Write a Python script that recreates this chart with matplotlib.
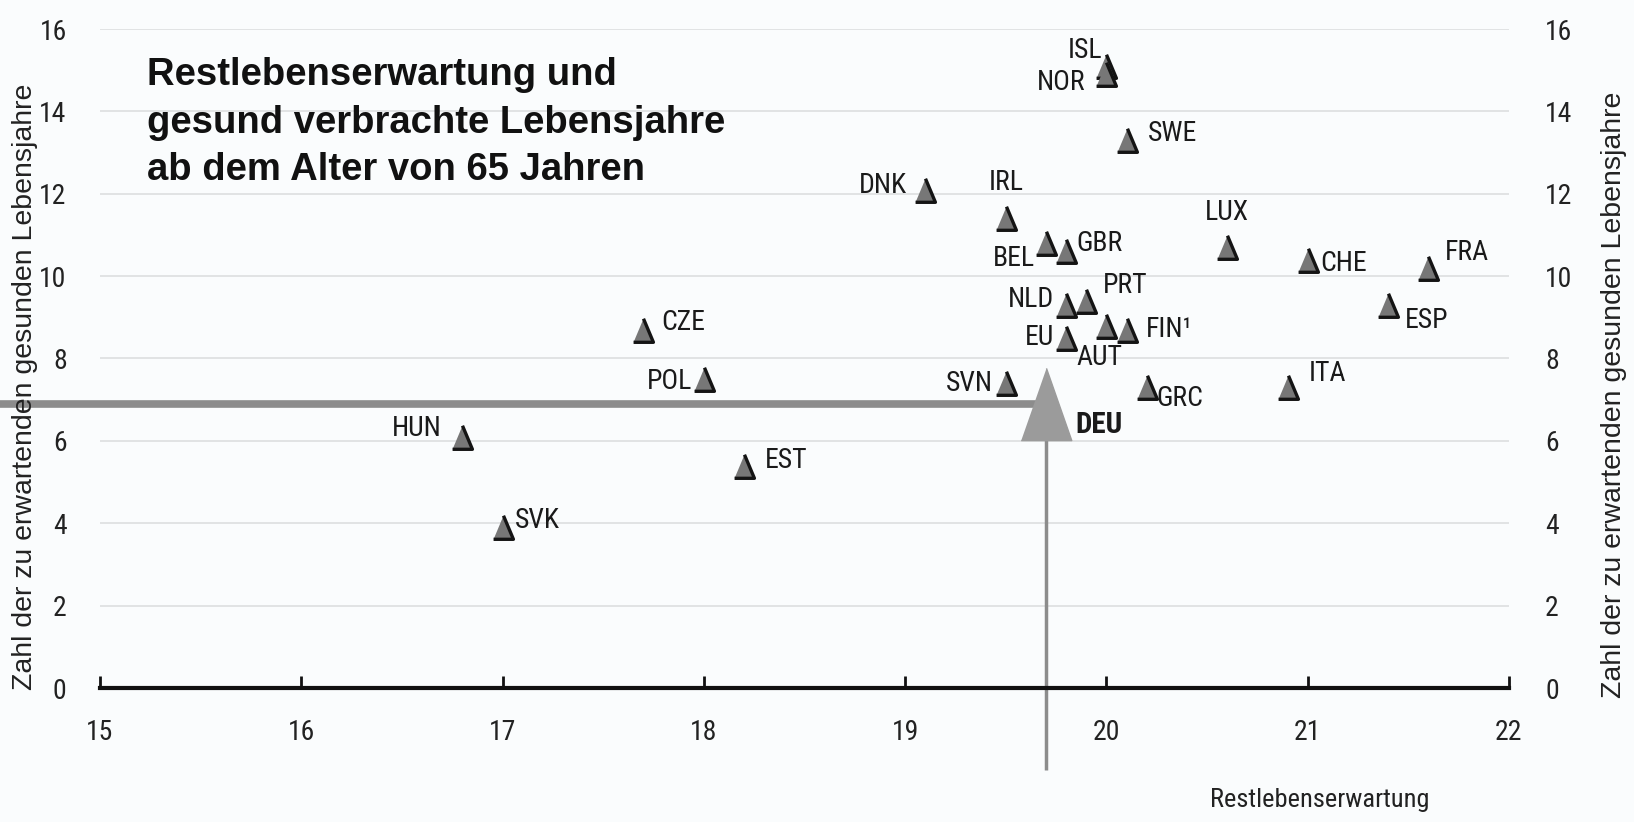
import matplotlib
matplotlib.use("Agg")
import matplotlib.pyplot as plt
from matplotlib import font_manager

# Restlebenserwartung (x) und gesunde Lebensjahre (y) ab 65
laender = ["ISL", "NOR", "SWE", "DNK", "IRL", "BEL", "GBR", "LUX", "CHE", "FRA",
           "NLD", "PRT", "ESP", "AUT", "FIN¹", "EU", "SVN", "GRC", "ITA",
           "CZE", "POL", "HUN", "EST", "SVK"]
rest_le = [20.0, 20.0, 20.1, 19.1, 19.5, 19.7, 19.8, 20.6, 21.0, 21.6,
           19.8, 19.9, 21.4, 20.0, 20.1, 19.8, 19.5, 20.2, 20.9,
           17.7, 18.0, 16.8, 18.2, 17.0]
gesund = [15.1, 14.9, 13.3, 12.1, 11.4, 10.8, 10.6, 10.7, 10.4, 10.2,
          9.3, 9.4, 9.3, 8.8, 8.7, 8.5, 7.4, 7.3, 7.3,
          8.7, 7.5, 6.1, 5.4, 3.9]
deu_x, deu_y = 19.7, 6.9

# Beschriftungsversatz in Punkt (dx, dy, ha)
versatz = {
    "ISL": (-3, 11, "right"), "NOR": (-15, -6, "right"), "SWE": (15, 5, "left"),
    "DNK": (-13, 3, "right"), "IRL": (0, 26, "center"), "BEL": (-8, -11, "right"),
    "GBR": (7, 6, "left"), "LUX": (0, 25, "center"), "CHE": (9, -3, "left"),
    "FRA": (12, 11, "left"), "NLD": (-9, 4, "right"), "PRT": (12, 11, "left"),
    "ESP": (12, -11, "left"), "AUT": (-5, -23, "center"), "FIN¹": (14, 0, "left"),
    "EU": (-9, 0, "right"), "SVN": (-9, 0, "right"), "GRC": (7, -8, "left"),
    "ITA": (15, 10, "left"), "CZE": (13, 5, "left"), "POL": (-8, -2, "right"),
    "HUN": (-15, 6, "right"), "EST": (15, 4, "left"), "SVK": (9, 5, "left"),
}

namen = {f.name for f in font_manager.fontManager.ttflist}
schmal = next((n for n in ["Liberation Sans Narrow", "Roboto Condensed", "Archivo Narrow",
                           "Asap Condensed", "Barlow Condensed"] if n in namen), "DejaVu Sans")
normal = "Liberation Sans"

bg = "#fafcfd"
fig = plt.figure(figsize=(16.34, 8.22), dpi=100, facecolor=bg)
ax = fig.add_axes([100 / 1634, 1 - 688 / 822, 1409 / 1634, 659 / 822])
ax.set_facecolor(bg)
ax.set_xlim(15, 22)
ax.set_ylim(0, 16)

for y in range(2, 17, 2):
    ax.axhline(y, color="#dcdedf", lw=1.2, zorder=0)

for s in ["top", "left", "right"]:
    ax.spines[s].set_visible(False)
ax.spines["bottom"].set_linewidth(3)
ax.spines["bottom"].set_color("#111111")

ax.set_xticks(range(15, 23))
ax.set_yticks(range(0, 17, 2))
ax.tick_params(axis="x", direction="in", length=9, width=2, color="#111111", pad=22,
               labelsize=20)
ax.tick_params(axis="y", length=0, pad=24, labelsize=20)
for lab in ax.get_xticklabels() + ax.get_yticklabels():
    lab.set_family(schmal)
    lab.set_color("#222222")

ax2 = ax.twinx()
ax2.set_ylim(0, 16)
ax2.set_yticks(range(0, 17, 2))
ax2.tick_params(axis="y", length=0, pad=26, labelsize=20)
for s in ["top", "left", "right", "bottom"]:
    ax2.spines[s].set_visible(False)
for lab in ax2.get_yticklabels():
    lab.set_family(schmal)
    lab.set_color("#222222")

# Hilfslinien zu Deutschland
ax.plot([14.5, deu_x], [deu_y, deu_y], color="#8c8c8c", lw=5.5, clip_on=False, zorder=2,
        solid_capstyle="butt")
ax.plot([deu_x, deu_x], [deu_y, -2.0], color="#8c8c8c", lw=2.5, clip_on=False, zorder=2,
        solid_capstyle="butt")

dreieck = [(-0.42, -0.5), (0.42, -0.5), (0, 0.5)]
ax.plot(rest_le, gesund, ls="none", marker=dreieck, markersize=17,
        markerfacecolor="#777777", markeredgecolor="#141414", markeredgewidth=2.4, zorder=3)

deu_dreieck = [(-0.35, -0.5), (0.35, -0.5), (0, 0.5)]
ax.plot([deu_x], [deu_y], ls="none", marker=deu_dreieck, markersize=52,
        markerfacecolor="#9b9b9b", markeredgecolor="#9b9b9b", zorder=4)

for land, x, y in zip(laender, rest_le, gesund):
    dx, dy, ha = versatz[land]
    ax.annotate(land, (x, y), xytext=(dx, dy), textcoords="offset points",
                ha=ha, va="center", fontsize=20, family=schmal, color="#1a1a1a", zorder=5)
ax.annotate("DEU", (deu_x, deu_y), xytext=(21, -15), textcoords="offset points",
            ha="left", va="center", fontsize=21, family=schmal, fontweight="bold",
            color="#1a1a1a", zorder=5)

ax.text(0.0333, 0.957, "Restlebenserwartung und\ngesund verbrachte Lebensjahre\nab dem Alter von 65 Jahren",
        transform=ax.transAxes, ha="left", va="top", fontsize=27.5, fontweight="bold",
        family=normal, color="#111111", linespacing=1.4)

ylab = "Zahl der zu erwartenden gesunden Lebensjahre"
fig.text(25 / 1634, 0.53, ylab, rotation=90, ha="center", va="center", fontsize=20.5,
         family=normal, color="#222222")
fig.text(1614 / 1634, 0.52, ylab, rotation=90, ha="center", va="center", fontsize=20.5,
         family=normal, color="#222222")
fig.text(1320 / 1634, 1 - 800 / 822, "Restlebenserwartung", ha="center", va="center",
         fontsize=19, family=schmal, color="#222222")

fig.savefig("out.png", dpi=100, facecolor=bg)
